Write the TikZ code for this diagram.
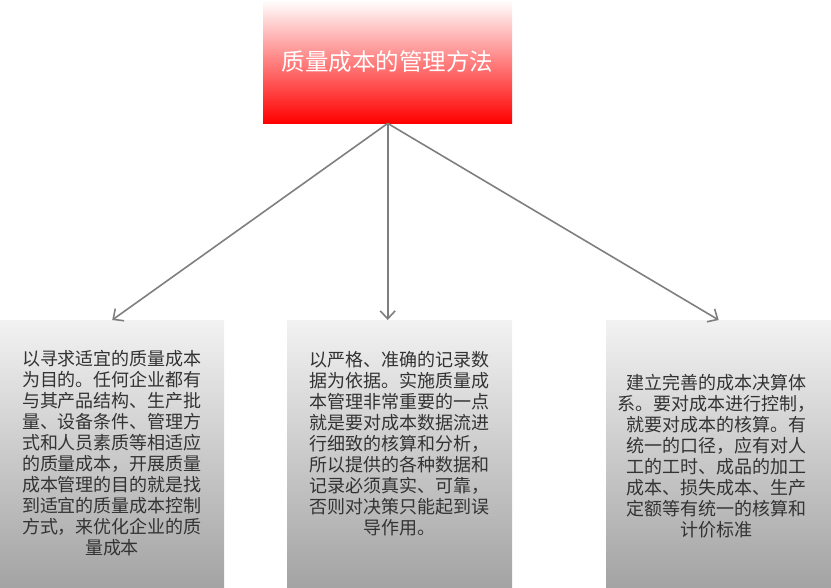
\documentclass[tikz,border=0pt]{standalone}
\usepackage{fontspec}
\newfontfamily\cjk{Noto Sans CJK SC}
\usetikzlibrary{arrows.meta}
\definecolor{boxtop}{HTML}{F2F2F2}
\definecolor{boxbot}{HTML}{A3A3A3}
\definecolor{linegray}{HTML}{7F7F7F}
\tikzset{
  headbox/.style={anchor=north west,minimum width=249pt,minimum height=123pt,
    inner sep=0pt,top color=white,bottom color=red,text=white,
    font=\cjk\fontsize{23.5}{28}\selectfont},
  greybox/.style={anchor=north west,minimum width=225pt,minimum height=268pt,
    inner sep=0pt,top color=boxtop,bottom color=boxbot},
  boxtext/.style={align=center,inner sep=0pt,text=black!80,
    font=\cjk\fontsize{18}{21}\selectfont},
  link/.style={->,draw=linegray,line width=1.6pt}
}
\begin{document}
\begin{tikzpicture}[x=1pt,y=-1pt,>={Straight Barb[length=8pt,width=15pt]}]
\useasboundingbox (0,0) rectangle (831,588);
\node[headbox] (top) at (263,0) {质量成本的管理方法};
\node[greybox,minimum width=224pt] (left) at (0,320) {};
\node[greybox] (mid) at (287,320) {};
\node[greybox] (right) at (606,320) {};
\node[boxtext] (lefttext) at (112,453) {以寻求适宜的质量成本\\为目的。任何企业都有\\与其产品结构、生产批\\量、设备条件、管理方\\式和人员素质等相适应\\的质量成本，开展质量\\成本管理的目的就是找\\到适宜的质量成本控制\\方式，来优化企业的质\\量成本};
\node[boxtext] (midtext) at (399,444) {以严格、准确的记录数\\据为依据。实施质量成\\本管理非常重要的一点\\就是要对成本数据流进\\行细致的核算和分析，\\所以提供的各种数据和\\记录必须真实、可靠，\\否则对决策只能起到误\\导作用。};
\node[boxtext] (righttext) at (716,456) {建立完善的成本决算体\\系。要对成本进行控制，\\就要对成本的核算。有\\统一的口径，应有对人\\工的工时、成品的加工\\成本、损失成本、生产\\定额等有统一的核算和\\计价标准};
\draw[link] (top.south) -- (left.north);
\draw[link] (top.south) -- (top.south |- mid.north);
\draw[link] (top.south) -- (right.north);
\end{tikzpicture}
\end{document}
